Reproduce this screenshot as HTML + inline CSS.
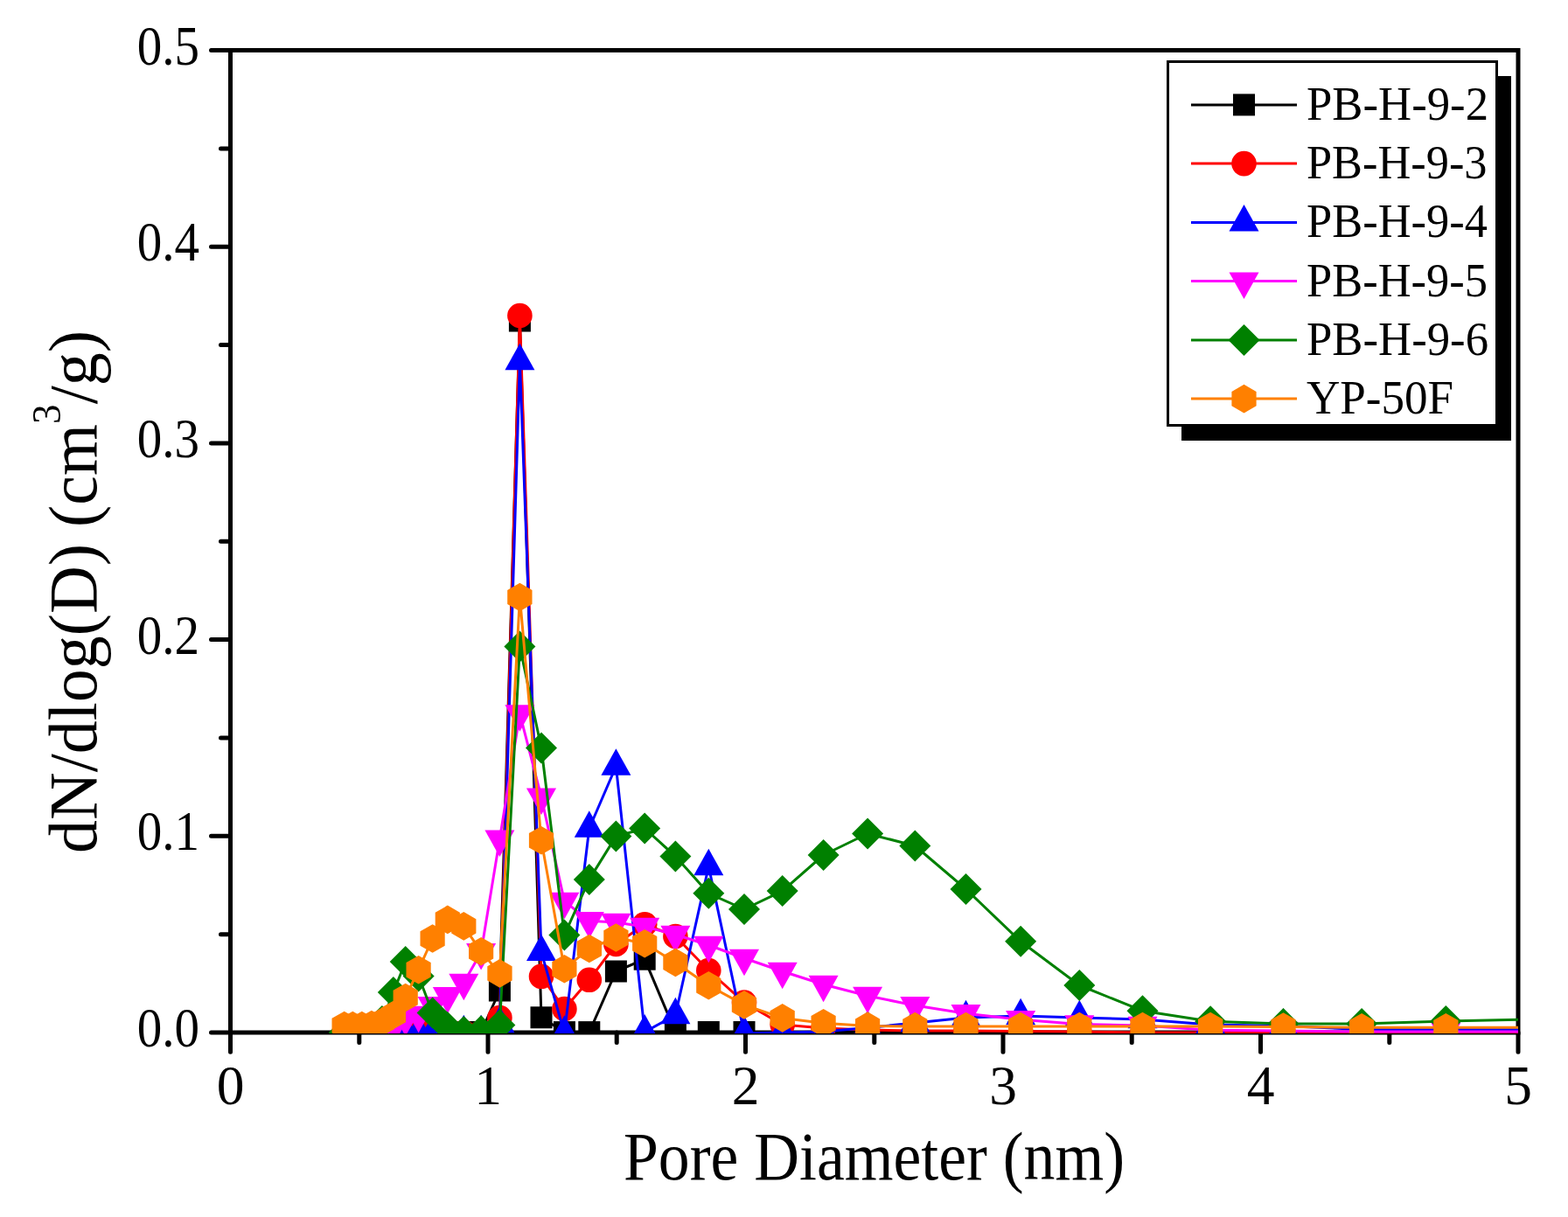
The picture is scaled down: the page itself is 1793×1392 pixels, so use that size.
<!DOCTYPE html><html><head><meta charset="utf-8"><style>html,body{margin:0;padding:0;background:#fff;}svg{display:block;}</style></head><body>
<svg width="1793" height="1392" viewBox="0 0 1793 1392">
<rect width="1793" height="1392" fill="#fff"/>
<defs><clipPath id="pc"><rect x="263.5" y="57.5" width="1472.5" height="1124.5"/></clipPath></defs>
<rect x="263.5" y="57.5" width="1472.5" height="1123.5" fill="none" stroke="#000" stroke-width="5"/>
<path d="M263.5 1181H241.5 M263.5 956.3H241.5 M263.5 731.6H241.5 M263.5 506.9H241.5 M263.5 282.2H241.5 M263.5 57.5H241.5 M263.5 1068.7H252.5 M263.5 843.9H252.5 M263.5 619.2H252.5 M263.5 394.5H252.5 M263.5 169.9H252.5 M263.5 1181V1203.2 M558 1181V1203.2 M852.5 1181V1203.2 M1147 1181V1203.2 M1441.5 1181V1203.2 M1736 1181V1203.2 M410.8 1181V1192.5 M705.2 1181V1192.5 M999.8 1181V1192.5 M1294.2 1181V1192.5 M1588.8 1181V1192.5" stroke="#000" stroke-width="5" stroke-linecap="round" fill="none"/>
<g clip-path="url(#pc)">
<polyline fill="none" stroke="#000000" stroke-width="3" stroke-linejoin="round" points="393.7,1180.5 403.3,1180.5 413.8,1180.5 424.9,1180.5 436.9,1180.5 449.8,1180.5 463.7,1180.5 478.6,1180.5 494.6,1180.5 511.8,1180.5 530.3,1180.5 550.1,1180.5 571.4,1133 594.4,367 619,1163.8 645.4,1180.6 673.8,1180.6 704.4,1111 737.2,1097.2 772.4,1180.5 810.3,1180.5 851,1180.5 894.7,1180.5 941.6,1180.5 992.1,1180.5 1046.3,1180.5 1104.5,1180.5 1167.1,1180.5 1234.3,1180.5 1306.5,1180.5 1384.1,1180.5 1467.5,1180.5 1557.1,1180.5 1653.3,1180.5 1756.7,1180.5"/>
<g fill="#000000"><rect x="381.2" y="1168" width="25" height="25"/><rect x="390.8" y="1168" width="25" height="25"/><rect x="401.3" y="1168" width="25" height="25"/><rect x="412.4" y="1168" width="25" height="25"/><rect x="424.4" y="1168" width="25" height="25"/><rect x="437.3" y="1168" width="25" height="25"/><rect x="451.2" y="1168" width="25" height="25"/><rect x="466.1" y="1168" width="25" height="25"/><rect x="482.1" y="1168" width="25" height="25"/><rect x="499.3" y="1168" width="25" height="25"/><rect x="517.8" y="1168" width="25" height="25"/><rect x="537.6" y="1168" width="25" height="25"/><rect x="558.9" y="1120.5" width="25" height="25"/><rect x="581.9" y="354.5" width="25" height="25"/><rect x="606.5" y="1151.3" width="25" height="25"/><rect x="632.9" y="1168.1" width="25" height="25"/><rect x="661.3" y="1168.1" width="25" height="25"/><rect x="691.9" y="1098.5" width="25" height="25"/><rect x="724.7" y="1084.7" width="25" height="25"/><rect x="759.9" y="1168" width="25" height="25"/><rect x="797.8" y="1168" width="25" height="25"/><rect x="838.5" y="1168" width="25" height="25"/><rect x="882.2" y="1168" width="25" height="25"/><rect x="929.1" y="1168" width="25" height="25"/><rect x="979.6" y="1168" width="25" height="25"/><rect x="1033.8" y="1168" width="25" height="25"/><rect x="1092" y="1168" width="25" height="25"/><rect x="1154.6" y="1168" width="25" height="25"/><rect x="1221.8" y="1168" width="25" height="25"/><rect x="1294" y="1168" width="25" height="25"/><rect x="1371.6" y="1168" width="25" height="25"/><rect x="1455" y="1168" width="25" height="25"/><rect x="1544.6" y="1168" width="25" height="25"/><rect x="1640.8" y="1168" width="25" height="25"/><rect x="1744.2" y="1168" width="25" height="25"/></g>
<polyline fill="none" stroke="#FF0000" stroke-width="3" stroke-linejoin="round" points="393.7,1180 403.3,1180 413.8,1180 424.9,1180 436.9,1180 449.8,1180 463.7,1180 478.6,1186 494.6,1179 511.8,1181 530.3,1181 550.1,1181 571.4,1164 594.4,361 619,1116.8 645.4,1154 673.8,1120.8 704.4,1080 737.2,1057.2 772.4,1071 810.3,1110 851,1146.6 894.7,1172 941.6,1176 992.1,1178 1046.3,1179 1104.5,1179 1167.1,1179.5 1234.3,1180 1306.5,1181 1384.1,1181 1467.5,1181 1557.1,1181 1653.3,1181 1756.7,1181"/>
<g fill="#FF0000"><circle cx="393.7" cy="1180" r="14.3"/><circle cx="403.3" cy="1180" r="14.3"/><circle cx="413.8" cy="1180" r="14.3"/><circle cx="424.9" cy="1180" r="14.3"/><circle cx="436.9" cy="1180" r="14.3"/><circle cx="449.8" cy="1180" r="14.3"/><circle cx="463.7" cy="1180" r="14.3"/><circle cx="478.6" cy="1186" r="14.3"/><circle cx="494.6" cy="1179" r="14.3"/><circle cx="511.8" cy="1181" r="14.3"/><circle cx="530.3" cy="1181" r="14.3"/><circle cx="550.1" cy="1181" r="14.3"/><circle cx="571.4" cy="1164" r="14.3"/><circle cx="594.4" cy="361" r="14.3"/><circle cx="619" cy="1116.8" r="14.3"/><circle cx="645.4" cy="1154" r="14.3"/><circle cx="673.8" cy="1120.8" r="14.3"/><circle cx="704.4" cy="1080" r="14.3"/><circle cx="737.2" cy="1057.2" r="14.3"/><circle cx="772.4" cy="1071" r="14.3"/><circle cx="810.3" cy="1110" r="14.3"/><circle cx="851" cy="1146.6" r="14.3"/><circle cx="894.7" cy="1172" r="14.3"/><circle cx="941.6" cy="1176" r="14.3"/><circle cx="992.1" cy="1178" r="14.3"/><circle cx="1046.3" cy="1179" r="14.3"/><circle cx="1104.5" cy="1179" r="14.3"/><circle cx="1167.1" cy="1179.5" r="14.3"/><circle cx="1234.3" cy="1180" r="14.3"/><circle cx="1306.5" cy="1181" r="14.3"/><circle cx="1384.1" cy="1181" r="14.3"/><circle cx="1467.5" cy="1181" r="14.3"/><circle cx="1557.1" cy="1181" r="14.3"/><circle cx="1653.3" cy="1181" r="14.3"/><circle cx="1756.7" cy="1181" r="14.3"/></g>
<polyline fill="none" stroke="#0000FF" stroke-width="3" stroke-linejoin="round" points="393.7,1181 403.3,1181 413.8,1181 424.9,1181 436.9,1181 449.8,1181 463.7,1181 478.6,1181 494.6,1181 511.8,1181 530.3,1181 550.1,1181 571.4,1171 594.4,413 619,1088.8 645.4,1181.6 673.8,947.5 704.4,876.5 737.2,1180.4 772.4,1161 810.3,991 851,1182 894.7,1181 941.6,1180 992.1,1175.6 1046.3,1170 1104.5,1164 1167.1,1162 1234.3,1164 1306.5,1166 1384.1,1172 1467.5,1173.5 1557.1,1177.4 1653.3,1177.4 1756.7,1177.4"/>
<g fill="#0000FF"><polygon points="393.7,1160.7 410.7,1191.2 376.7,1191.2"/><polygon points="403.3,1160.7 420.3,1191.2 386.3,1191.2"/><polygon points="413.8,1160.7 430.8,1191.2 396.8,1191.2"/><polygon points="424.9,1160.7 441.9,1191.2 407.9,1191.2"/><polygon points="436.9,1160.7 453.9,1191.2 419.9,1191.2"/><polygon points="449.8,1160.7 466.8,1191.2 432.8,1191.2"/><polygon points="463.7,1160.7 480.7,1191.2 446.7,1191.2"/><polygon points="478.6,1160.7 495.6,1191.2 461.6,1191.2"/><polygon points="494.6,1160.7 511.6,1191.2 477.6,1191.2"/><polygon points="511.8,1160.7 528.8,1191.2 494.8,1191.2"/><polygon points="530.3,1160.7 547.3,1191.2 513.3,1191.2"/><polygon points="550.1,1160.7 567.1,1191.2 533.1,1191.2"/><polygon points="571.4,1150.7 588.4,1181.2 554.4,1181.2"/><polygon points="594.4,392.7 611.4,423.2 577.4,423.2"/><polygon points="619,1068.5 636,1099 602,1099"/><polygon points="645.4,1161.3 662.4,1191.8 628.4,1191.8"/><polygon points="673.8,927.2 690.8,957.7 656.8,957.7"/><polygon points="704.4,856.2 721.4,886.7 687.4,886.7"/><polygon points="737.2,1160.1 754.2,1190.6 720.2,1190.6"/><polygon points="772.4,1140.7 789.4,1171.2 755.4,1171.2"/><polygon points="810.3,970.7 827.3,1001.2 793.3,1001.2"/><polygon points="851,1161.7 868,1192.2 834,1192.2"/><polygon points="894.7,1160.7 911.7,1191.2 877.7,1191.2"/><polygon points="941.6,1159.7 958.6,1190.2 924.6,1190.2"/><polygon points="992.1,1155.3 1009.1,1185.8 975.1,1185.8"/><polygon points="1046.3,1149.7 1063.3,1180.2 1029.3,1180.2"/><polygon points="1104.5,1143.7 1121.5,1174.2 1087.5,1174.2"/><polygon points="1167.1,1141.7 1184.1,1172.2 1150.1,1172.2"/><polygon points="1234.3,1143.7 1251.3,1174.2 1217.3,1174.2"/><polygon points="1306.5,1145.7 1323.5,1176.2 1289.5,1176.2"/><polygon points="1384.1,1151.7 1401.1,1182.2 1367.1,1182.2"/><polygon points="1467.5,1153.2 1484.5,1183.7 1450.5,1183.7"/><polygon points="1557.1,1157.1 1574.1,1187.6 1540.1,1187.6"/><polygon points="1653.3,1157.1 1670.3,1187.6 1636.3,1187.6"/><polygon points="1756.7,1157.1 1773.7,1187.6 1739.7,1187.6"/></g>
<polyline fill="none" stroke="#FF00FF" stroke-width="3" stroke-linejoin="round" points="403.3,1180 413.8,1180 424.9,1180 436.9,1180 449.8,1175 463.7,1165 478.6,1161 494.6,1150.1 511.8,1139.1 530.3,1123.9 550.1,1089.2 571.4,959.8 594.4,816.4 619,911.7 645.4,1030.9 673.8,1053.2 704.4,1055 737.2,1059.9 772.4,1069 810.3,1081 851,1096 894.7,1111 941.6,1126 992.1,1139 1046.3,1150.1 1104.5,1159.2 1167.1,1166.2 1234.3,1171.5 1306.5,1173 1384.1,1178.3 1467.5,1179 1557.1,1180 1653.3,1180 1756.7,1180"/>
<g fill="#FF00FF"><polygon points="403.3,1200.3 420.3,1169.8 386.3,1169.8"/><polygon points="413.8,1200.3 430.8,1169.8 396.8,1169.8"/><polygon points="424.9,1200.3 441.9,1169.8 407.9,1169.8"/><polygon points="436.9,1200.3 453.9,1169.8 419.9,1169.8"/><polygon points="449.8,1195.3 466.8,1164.8 432.8,1164.8"/><polygon points="463.7,1185.3 480.7,1154.8 446.7,1154.8"/><polygon points="478.6,1181.3 495.6,1150.8 461.6,1150.8"/><polygon points="494.6,1170.4 511.6,1139.9 477.6,1139.9"/><polygon points="511.8,1159.4 528.8,1128.9 494.8,1128.9"/><polygon points="530.3,1144.2 547.3,1113.7 513.3,1113.7"/><polygon points="550.1,1109.5 567.1,1079 533.1,1079"/><polygon points="571.4,980.1 588.4,949.6 554.4,949.6"/><polygon points="594.4,836.7 611.4,806.2 577.4,806.2"/><polygon points="619,932 636,901.5 602,901.5"/><polygon points="645.4,1051.2 662.4,1020.7 628.4,1020.7"/><polygon points="673.8,1073.5 690.8,1043 656.8,1043"/><polygon points="704.4,1075.3 721.4,1044.8 687.4,1044.8"/><polygon points="737.2,1080.2 754.2,1049.7 720.2,1049.7"/><polygon points="772.4,1089.3 789.4,1058.8 755.4,1058.8"/><polygon points="810.3,1101.3 827.3,1070.8 793.3,1070.8"/><polygon points="851,1116.3 868,1085.8 834,1085.8"/><polygon points="894.7,1131.3 911.7,1100.8 877.7,1100.8"/><polygon points="941.6,1146.3 958.6,1115.8 924.6,1115.8"/><polygon points="992.1,1159.3 1009.1,1128.8 975.1,1128.8"/><polygon points="1046.3,1170.4 1063.3,1139.9 1029.3,1139.9"/><polygon points="1104.5,1179.5 1121.5,1149 1087.5,1149"/><polygon points="1167.1,1186.5 1184.1,1156 1150.1,1156"/><polygon points="1234.3,1191.8 1251.3,1161.3 1217.3,1161.3"/><polygon points="1306.5,1193.3 1323.5,1162.8 1289.5,1162.8"/><polygon points="1384.1,1198.6 1401.1,1168.1 1367.1,1168.1"/><polygon points="1467.5,1199.3 1484.5,1168.8 1450.5,1168.8"/><polygon points="1557.1,1200.3 1574.1,1169.8 1540.1,1169.8"/><polygon points="1653.3,1200.3 1670.3,1169.8 1636.3,1169.8"/><polygon points="1756.7,1200.3 1773.7,1169.8 1739.7,1169.8"/></g>
<polyline fill="none" stroke="#008000" stroke-width="3" stroke-linejoin="round" points="393.7,1181 403.3,1181 413.8,1181 424.9,1181 436.9,1168 449.8,1135 463.7,1100 478.6,1116.5 494.6,1158.5 511.8,1175.1 530.3,1180 550.1,1179.2 571.4,1172.5 594.4,739.5 619,855.5 645.4,1069.5 673.8,1005.9 704.4,956.6 737.2,947.5 772.4,979.5 810.3,1021.8 851,1040 894.7,1019.1 941.6,978 992.1,953.5 1046.3,967.5 1104.5,1017 1167.1,1076.8 1234.3,1127 1306.5,1156.2 1384.1,1168.2 1467.5,1170.9 1557.1,1171 1653.3,1168 1756.7,1165.7"/>
<g fill="#008000"><polygon points="393.7,1163 411.7,1181 393.7,1199 375.7,1181"/><polygon points="403.3,1163 421.3,1181 403.3,1199 385.3,1181"/><polygon points="413.8,1163 431.8,1181 413.8,1199 395.8,1181"/><polygon points="424.9,1163 442.9,1181 424.9,1199 406.9,1181"/><polygon points="436.9,1150 454.9,1168 436.9,1186 418.9,1168"/><polygon points="449.8,1117 467.8,1135 449.8,1153 431.8,1135"/><polygon points="463.7,1082 481.7,1100 463.7,1118 445.7,1100"/><polygon points="478.6,1098.5 496.6,1116.5 478.6,1134.5 460.6,1116.5"/><polygon points="494.6,1140.5 512.6,1158.5 494.6,1176.5 476.6,1158.5"/><polygon points="511.8,1157.1 529.8,1175.1 511.8,1193.1 493.8,1175.1"/><polygon points="530.3,1162 548.3,1180 530.3,1198 512.3,1180"/><polygon points="550.1,1161.2 568.1,1179.2 550.1,1197.2 532.1,1179.2"/><polygon points="571.4,1154.5 589.4,1172.5 571.4,1190.5 553.4,1172.5"/><polygon points="594.4,721.5 612.4,739.5 594.4,757.5 576.4,739.5"/><polygon points="619,837.5 637,855.5 619,873.5 601,855.5"/><polygon points="645.4,1051.5 663.4,1069.5 645.4,1087.5 627.4,1069.5"/><polygon points="673.8,987.9 691.8,1005.9 673.8,1023.9 655.8,1005.9"/><polygon points="704.4,938.6 722.4,956.6 704.4,974.6 686.4,956.6"/><polygon points="737.2,929.5 755.2,947.5 737.2,965.5 719.2,947.5"/><polygon points="772.4,961.5 790.4,979.5 772.4,997.5 754.4,979.5"/><polygon points="810.3,1003.8 828.3,1021.8 810.3,1039.8 792.3,1021.8"/><polygon points="851,1022 869,1040 851,1058 833,1040"/><polygon points="894.7,1001.1 912.7,1019.1 894.7,1037.1 876.7,1019.1"/><polygon points="941.6,960 959.6,978 941.6,996 923.6,978"/><polygon points="992.1,935.5 1010.1,953.5 992.1,971.5 974.1,953.5"/><polygon points="1046.3,949.5 1064.3,967.5 1046.3,985.5 1028.3,967.5"/><polygon points="1104.5,999 1122.5,1017 1104.5,1035 1086.5,1017"/><polygon points="1167.1,1058.8 1185.1,1076.8 1167.1,1094.8 1149.1,1076.8"/><polygon points="1234.3,1109 1252.3,1127 1234.3,1145 1216.3,1127"/><polygon points="1306.5,1138.2 1324.5,1156.2 1306.5,1174.2 1288.5,1156.2"/><polygon points="1384.1,1150.2 1402.1,1168.2 1384.1,1186.2 1366.1,1168.2"/><polygon points="1467.5,1152.9 1485.5,1170.9 1467.5,1188.9 1449.5,1170.9"/><polygon points="1557.1,1153 1575.1,1171 1557.1,1189 1539.1,1171"/><polygon points="1653.3,1150 1671.3,1168 1653.3,1186 1635.3,1168"/><polygon points="1756.7,1147.7 1774.7,1165.7 1756.7,1183.7 1738.7,1165.7"/></g>
<polyline fill="none" stroke="#FF8000" stroke-width="3" stroke-linejoin="round" points="393.7,1173 403.3,1173 413.8,1173 424.9,1172 436.9,1168.8 449.8,1161 463.7,1141 478.6,1109.2 494.6,1073.5 511.8,1051.9 530.3,1059.4 550.1,1088.3 571.4,1113.4 594.4,683 619,961.3 645.4,1108.2 673.8,1085 704.4,1072.5 737.2,1079.2 772.4,1100.9 810.3,1127.2 851,1149.4 894.7,1164.4 941.6,1170.2 992.1,1173.6 1046.3,1174 1104.5,1174 1167.1,1174 1234.3,1174 1306.5,1174 1384.1,1174 1467.5,1174.5 1557.1,1175.3 1653.3,1175.3 1756.7,1175.3"/>
<g fill="#FF8000"><polygon points="393.7,1156.7 407.8,1164.8 407.8,1181.2 393.7,1189.3 379.5,1181.2 379.5,1164.8"/><polygon points="403.3,1156.7 417.5,1164.8 417.5,1181.2 403.3,1189.3 389.2,1181.2 389.2,1164.8"/><polygon points="413.8,1156.7 427.9,1164.8 427.9,1181.2 413.8,1189.3 399.6,1181.2 399.6,1164.8"/><polygon points="424.9,1155.7 439,1163.8 439,1180.2 424.9,1188.3 410.8,1180.2 410.8,1163.8"/><polygon points="436.9,1152.5 451.1,1160.6 451.1,1177 436.9,1185.1 422.8,1177 422.8,1160.6"/><polygon points="449.8,1144.7 464,1152.8 464,1169.2 449.8,1177.3 435.7,1169.2 435.7,1152.8"/><polygon points="463.7,1124.7 477.8,1132.8 477.8,1149.2 463.7,1157.3 449.6,1149.2 449.6,1132.8"/><polygon points="478.6,1092.9 492.7,1101 492.7,1117.4 478.6,1125.5 464.5,1117.4 464.5,1101"/><polygon points="494.6,1057.2 508.7,1065.3 508.7,1081.7 494.6,1089.8 480.5,1081.7 480.5,1065.3"/><polygon points="511.8,1035.6 525.9,1043.8 525.9,1060.1 511.8,1068.2 497.7,1060.1 497.7,1043.8"/><polygon points="530.3,1043.1 544.4,1051.2 544.4,1067.6 530.3,1075.7 516.2,1067.6 516.2,1051.2"/><polygon points="550.1,1072 564.2,1080.1 564.2,1096.5 550.1,1104.6 536,1096.5 536,1080.1"/><polygon points="571.4,1097.1 585.6,1105.2 585.6,1121.6 571.4,1129.7 557.3,1121.6 557.3,1105.2"/><polygon points="594.4,666.7 608.5,674.9 608.5,691.1 594.4,699.3 580.2,691.1 580.2,674.9"/><polygon points="619,945 633.1,953.1 633.1,969.4 619,977.6 604.9,969.4 604.9,953.1"/><polygon points="645.4,1091.9 659.5,1100 659.5,1116.4 645.4,1124.5 631.3,1116.4 631.3,1100"/><polygon points="673.8,1068.7 688,1076.8 688,1093.2 673.8,1101.3 659.7,1093.2 659.7,1076.8"/><polygon points="704.4,1056.2 718.5,1064.3 718.5,1080.7 704.4,1088.8 690.3,1080.7 690.3,1064.3"/><polygon points="737.2,1062.9 751.3,1071 751.3,1087.4 737.2,1095.5 723.1,1087.4 723.1,1071"/><polygon points="772.4,1084.6 786.5,1092.8 786.5,1109.1 772.4,1117.2 758.3,1109.1 758.3,1092.8"/><polygon points="810.3,1110.9 824.4,1119 824.4,1135.4 810.3,1143.5 796.2,1135.4 796.2,1119"/><polygon points="851,1133.1 865.1,1141.2 865.1,1157.6 851,1165.7 836.8,1157.6 836.8,1141.2"/><polygon points="894.7,1148.1 908.8,1156.2 908.8,1172.6 894.7,1180.7 880.5,1172.6 880.5,1156.2"/><polygon points="941.6,1153.9 955.7,1162 955.7,1178.4 941.6,1186.5 927.5,1178.4 927.5,1162"/><polygon points="992.1,1157.3 1006.2,1165.4 1006.2,1181.8 992.1,1189.9 978,1181.8 978,1165.4"/><polygon points="1046.3,1157.7 1060.4,1165.8 1060.4,1182.2 1046.3,1190.3 1032.2,1182.2 1032.2,1165.8"/><polygon points="1104.5,1157.7 1118.6,1165.8 1118.6,1182.2 1104.5,1190.3 1090.4,1182.2 1090.4,1165.8"/><polygon points="1167.1,1157.7 1181.2,1165.8 1181.2,1182.2 1167.1,1190.3 1153,1182.2 1153,1165.8"/><polygon points="1234.3,1157.7 1248.4,1165.8 1248.4,1182.2 1234.3,1190.3 1220.2,1182.2 1220.2,1165.8"/><polygon points="1306.5,1157.7 1320.7,1165.8 1320.7,1182.2 1306.5,1190.3 1292.4,1182.2 1292.4,1165.8"/><polygon points="1384.1,1157.7 1398.3,1165.8 1398.3,1182.2 1384.1,1190.3 1370,1182.2 1370,1165.8"/><polygon points="1467.5,1158.2 1481.6,1166.3 1481.6,1182.7 1467.5,1190.8 1453.4,1182.7 1453.4,1166.3"/><polygon points="1557.1,1159 1571.2,1167.1 1571.2,1183.5 1557.1,1191.6 1543,1183.5 1543,1167.1"/><polygon points="1653.3,1159 1667.5,1167.1 1667.5,1183.5 1653.3,1191.6 1639.2,1183.5 1639.2,1167.1"/><polygon points="1756.7,1159 1770.9,1167.1 1770.9,1183.5 1756.7,1191.6 1742.6,1183.5 1742.6,1167.1"/></g>
</g>
<text font-family="Liberation Serif, Times New Roman, serif" font-size="63.5" x="228" y="1197" text-anchor="end" textLength="71.3" lengthAdjust="spacingAndGlyphs">0.0</text>
<text font-family="Liberation Serif, Times New Roman, serif" font-size="63.5" x="228" y="972.3" text-anchor="end" textLength="71.3" lengthAdjust="spacingAndGlyphs">0.1</text>
<text font-family="Liberation Serif, Times New Roman, serif" font-size="63.5" x="228" y="747.6" text-anchor="end" textLength="71.3" lengthAdjust="spacingAndGlyphs">0.2</text>
<text font-family="Liberation Serif, Times New Roman, serif" font-size="63.5" x="228" y="522.9" text-anchor="end" textLength="71.3" lengthAdjust="spacingAndGlyphs">0.3</text>
<text font-family="Liberation Serif, Times New Roman, serif" font-size="63.5" x="228" y="298.2" text-anchor="end" textLength="71.3" lengthAdjust="spacingAndGlyphs">0.4</text>
<text font-family="Liberation Serif, Times New Roman, serif" font-size="63.5" x="228" y="73.5" text-anchor="end" textLength="71.3" lengthAdjust="spacingAndGlyphs">0.5</text>
<text font-family="Liberation Serif, Times New Roman, serif" font-size="63.5" x="263.5" y="1263" text-anchor="middle">0</text>
<text font-family="Liberation Serif, Times New Roman, serif" font-size="63.5" x="558" y="1263" text-anchor="middle">1</text>
<text font-family="Liberation Serif, Times New Roman, serif" font-size="63.5" x="852.5" y="1263" text-anchor="middle">2</text>
<text font-family="Liberation Serif, Times New Roman, serif" font-size="63.5" x="1147" y="1263" text-anchor="middle">3</text>
<text font-family="Liberation Serif, Times New Roman, serif" font-size="63.5" x="1441.5" y="1263" text-anchor="middle">4</text>
<text font-family="Liberation Serif, Times New Roman, serif" font-size="63.5" x="1736" y="1263" text-anchor="middle">5</text>
<text font-family="Liberation Serif, Times New Roman, serif" font-size="78.8" x="713" y="1349" textLength="573" lengthAdjust="spacingAndGlyphs">Pore Diameter (nm)</text>
<text font-family="Liberation Serif, Times New Roman, serif" font-size="78.8" transform="translate(110,976) rotate(-90)" textLength="598" lengthAdjust="spacingAndGlyphs">dN/dlog(D) (cm<tspan font-size="47" dy="-41">3</tspan><tspan dy="41">/g)</tspan></text>
<rect x="1351" y="87" width="377" height="417" fill="#000"/>
<rect x="1335.5" y="70.5" width="376" height="416" fill="#fff" stroke="#000" stroke-width="3"/>
<line x1="1362" y1="119.9" x2="1483" y2="119.9" stroke="#000000" stroke-width="3"/>
<g fill="#000000"><rect x="1410" y="107.4" width="25" height="25"/></g>
<text font-family="Liberation Serif, Times New Roman, serif" font-size="54.6" x="1494" y="136.9" textLength="208" lengthAdjust="spacingAndGlyphs">PB-H-9-2</text>
<line x1="1362" y1="187.1" x2="1483" y2="187.1" stroke="#FF0000" stroke-width="3"/>
<g fill="#FF0000"><circle cx="1422.5" cy="187.1" r="14.3"/></g>
<text font-family="Liberation Serif, Times New Roman, serif" font-size="54.6" x="1494" y="204.1" textLength="206.5" lengthAdjust="spacingAndGlyphs">PB-H-9-3</text>
<line x1="1362" y1="254.4" x2="1483" y2="254.4" stroke="#0000FF" stroke-width="3"/>
<g fill="#0000FF"><polygon points="1422.5,234 1439.5,264.5 1405.5,264.5"/></g>
<text font-family="Liberation Serif, Times New Roman, serif" font-size="54.6" x="1494" y="271.4" textLength="207" lengthAdjust="spacingAndGlyphs">PB-H-9-4</text>
<line x1="1362" y1="321.6" x2="1483" y2="321.6" stroke="#FF00FF" stroke-width="3"/>
<g fill="#FF00FF"><polygon points="1422.5,342 1439.5,311.5 1405.5,311.5"/></g>
<text font-family="Liberation Serif, Times New Roman, serif" font-size="54.6" x="1494" y="338.6" textLength="207" lengthAdjust="spacingAndGlyphs">PB-H-9-5</text>
<line x1="1362" y1="388.9" x2="1483" y2="388.9" stroke="#008000" stroke-width="3"/>
<g fill="#008000"><polygon points="1422.5,370.9 1440.5,388.9 1422.5,406.9 1404.5,388.9"/></g>
<text font-family="Liberation Serif, Times New Roman, serif" font-size="54.6" x="1494" y="405.9" textLength="208" lengthAdjust="spacingAndGlyphs">PB-H-9-6</text>
<line x1="1362" y1="456.1" x2="1483" y2="456.1" stroke="#FF8000" stroke-width="3"/>
<g fill="#FF8000"><polygon points="1422.5,439.8 1436.6,448 1436.6,464.2 1422.5,472.4 1408.4,464.2 1408.4,448"/></g>
<text font-family="Liberation Serif, Times New Roman, serif" font-size="54.6" x="1494" y="473.1" textLength="168" lengthAdjust="spacingAndGlyphs">YP-50F</text>
</svg></body></html>
